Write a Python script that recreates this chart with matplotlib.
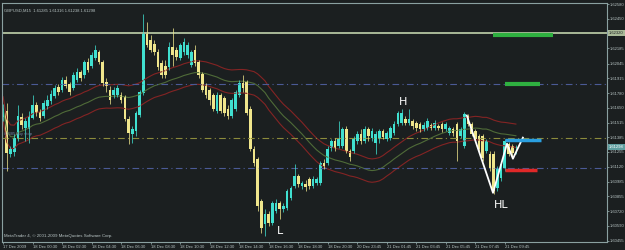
import numpy as np
import pandas as pd
import matplotlib.pyplot as plt

# GBPUSD M15, 17 Dec 2009 22:30 .. 21 Dec 2009
opens = [1.61571, 1.61625, 1.61238, 1.61256, 1.61382, 1.61571, 1.61472, 1.61463, 1.61562, 1.61670,
         1.61616, 1.61580, 1.61661, 1.61706, 1.61751, 1.61832, 1.61805, 1.61895, 1.61859, 1.61823,
         1.61895, 1.61967, 1.61940, 1.62057, 1.62021, 1.62093, 1.62147, 1.62057, 1.61877, 1.61805,
         1.61760, 1.61760, 1.61760, 1.61742, 1.61553, 1.61418, 1.61445, 1.61589, 1.61778, 1.62318,
         1.62255, 1.62219, 1.62147, 1.62048, 1.62021, 1.62012, 1.62192, 1.62165, 1.62093, 1.62147,
         1.62120, 1.62030, 1.62165, 1.62057, 1.61949, 1.61850, 1.61805, 1.61760, 1.61625, 1.61760,
         1.61733, 1.61643, 1.61580, 1.61643, 1.61760, 1.61868, 1.61877, 1.61643, 1.61283, 1.61193,
         1.60815, 1.60608, 1.60698, 1.60617, 1.60725, 1.60797, 1.60743, 1.60752, 1.60842, 1.60950,
         1.61040, 1.60950, 1.60968, 1.61013, 1.60950, 1.60977, 1.60977, 1.61157, 1.61157, 1.61292,
         1.61355, 1.61310, 1.61310, 1.61463, 1.61265, 1.61265, 1.61355, 1.61418, 1.61355, 1.61463,
         1.61382, 1.61337, 1.61373, 1.61445, 1.61373, 1.61382, 1.61427, 1.61508, 1.61517, 1.61553,
         1.61517, 1.61535, 1.61517, 1.61508, 1.61463, 1.61472, 1.61499, 1.61472, 1.61490, 1.61508,
         1.61463, 1.61427, 1.61463, 1.61508, 1.61400, 1.61310, 1.61580, 1.61508, 1.61445, 1.61400,
         1.61400, 1.61265, 1.61238, 1.61238, 1.60932, 1.61022, 1.61112, 1.61328, 1.61310, 1.61285]
highs = [1.61679, 1.61688, 1.61310, 1.61418, 1.61670, 1.61607, 1.61562, 1.61625, 1.61760, 1.61697,
         1.61643, 1.61715, 1.61760, 1.61805, 1.61850, 1.61859, 1.61922, 1.61931, 1.61877, 1.61967,
         1.62003, 1.61985, 1.62075, 1.62093, 1.62147, 1.62210, 1.62165, 1.62075, 1.61913, 1.61841,
         1.61832, 1.61850, 1.61787, 1.61760, 1.61580, 1.61490, 1.61625, 1.61805, 1.62489, 1.62417,
         1.62300, 1.62255, 1.62174, 1.62075, 1.62075, 1.62237, 1.62363, 1.62192, 1.62228, 1.62273,
         1.62237, 1.62165, 1.62210, 1.62075, 1.61967, 1.61868, 1.61823, 1.61778, 1.61787, 1.61778,
         1.61751, 1.61670, 1.61733, 1.61805, 1.61895, 1.61940, 1.61895, 1.61661, 1.61310, 1.61211,
         1.60833, 1.60743, 1.60725, 1.60815, 1.60833, 1.60815, 1.60797, 1.60923, 1.60950, 1.61148,
         1.61058, 1.60995, 1.61004, 1.61031, 1.61040, 1.61031, 1.61175, 1.61193, 1.61310, 1.61373,
         1.61382, 1.61535, 1.61481, 1.61490, 1.61283, 1.61400, 1.61445, 1.61463, 1.61490, 1.61481,
         1.61472, 1.61445, 1.61463, 1.61463, 1.61445, 1.61490, 1.61535, 1.61625, 1.61643, 1.61580,
         1.61643, 1.61553, 1.61535, 1.61526, 1.61526, 1.61562, 1.61517, 1.61544, 1.61508, 1.61526,
         1.61526, 1.61490, 1.61481, 1.61526, 1.61481, 1.61616, 1.61598, 1.61526, 1.61463, 1.61418,
         1.61418, 1.61373, 1.61265, 1.61265, 1.61130, 1.61175, 1.61373, 1.61346, 1.61328, 1.61316]
lows = [1.61535, 1.61085, 1.61211, 1.61220, 1.61355, 1.61463, 1.61355, 1.61337, 1.61553, 1.61580,
        1.61535, 1.61562, 1.61643, 1.61679, 1.61733, 1.61760, 1.61787, 1.61823, 1.61760, 1.61805,
        1.61877, 1.61886, 1.61913, 1.61967, 1.62003, 1.62075, 1.62039, 1.61841, 1.61787, 1.61679,
        1.61733, 1.61742, 1.61688, 1.61535, 1.61328, 1.61337, 1.61400, 1.61571, 1.61760, 1.62192,
        1.62147, 1.62120, 1.61985, 1.61913, 1.61913, 1.61985, 1.62021, 1.62075, 1.62075, 1.62120,
        1.62093, 1.62012, 1.62021, 1.61913, 1.61787, 1.61733, 1.61670, 1.61625, 1.61607, 1.61607,
        1.61580, 1.61553, 1.61562, 1.61625, 1.61742, 1.61787, 1.61589, 1.61265, 1.61130, 1.60725,
        1.60527, 1.60500, 1.60590, 1.60599, 1.60707, 1.60653, 1.60716, 1.60734, 1.60824, 1.60932,
        1.60941, 1.60923, 1.60905, 1.60923, 1.60932, 1.60959, 1.60959, 1.61103, 1.61139, 1.61265,
        1.61265, 1.61292, 1.61292, 1.61247, 1.61175, 1.61247, 1.61328, 1.61328, 1.61337, 1.61355,
        1.61355, 1.61238, 1.61337, 1.61373, 1.61355, 1.61364, 1.61409, 1.61490, 1.61499, 1.61499,
        1.61499, 1.61463, 1.61445, 1.61436, 1.61445, 1.61454, 1.61454, 1.61454, 1.61454, 1.61436,
        1.61445, 1.61409, 1.61400, 1.61175, 1.61382, 1.61292, 1.61490, 1.61400, 1.61355, 1.61265,
        1.61175, 1.61247, 1.61085, 1.60878, 1.60905, 1.60995, 1.61085, 1.61220, 1.61220, 1.61238]
closes = [1.61643, 1.61247, 1.61283, 1.61382, 1.61580, 1.61499, 1.61535, 1.61580, 1.61670, 1.61607,
          1.61562, 1.61688, 1.61715, 1.61769, 1.61823, 1.61787, 1.61895, 1.61841, 1.61787, 1.61940,
          1.61967, 1.61913, 1.62057, 1.61985, 1.62120, 1.62165, 1.62057, 1.61868, 1.61841, 1.61715,
          1.61805, 1.61823, 1.61715, 1.61553, 1.61427, 1.61463, 1.61607, 1.61787, 1.62318, 1.62210,
          1.62165, 1.62147, 1.62012, 1.61940, 1.61940, 1.62192, 1.62120, 1.62102, 1.62210, 1.62237,
          1.62210, 1.62147, 1.62048, 1.61940, 1.61805, 1.61760, 1.61715, 1.61643, 1.61760, 1.61625,
          1.61607, 1.61580, 1.61715, 1.61787, 1.61868, 1.61823, 1.61607, 1.61283, 1.61157, 1.60770,
          1.60572, 1.60698, 1.60617, 1.60797, 1.60797, 1.60743, 1.60770, 1.60905, 1.60932, 1.61040,
          1.60968, 1.60977, 1.60941, 1.60950, 1.61013, 1.61013, 1.61157, 1.61130, 1.61283, 1.61355,
          1.61292, 1.61382, 1.61463, 1.61265, 1.61211, 1.61373, 1.61418, 1.61355, 1.61463, 1.61400,
          1.61445, 1.61418, 1.61445, 1.61391, 1.61427, 1.61472, 1.61508, 1.61607, 1.61607, 1.61517,
          1.61553, 1.61490, 1.61472, 1.61463, 1.61499, 1.61535, 1.61472, 1.61517, 1.61472, 1.61463,
          1.61508, 1.61472, 1.61427, 1.61355, 1.61463, 1.61598, 1.61508, 1.61418, 1.61373, 1.61283,
          1.61202, 1.61355, 1.61112, 1.60905, 1.61112, 1.61148, 1.61355, 1.61238, 1.61247, 1.61298]

time_labels = ["17 Dec 2009", "18 Dec 00:30", "18 Dec 02:30", "18 Dec 04:30", "18 Dec 06:30",
               "18 Dec 08:30", "18 Dec 10:30", "18 Dec 12:30", "18 Dec 14:30", "18 Dec 16:30",
               "18 Dec 18:30", "18 Dec 20:30", "20 Dec 23:45", "21 Dec 01:45", "21 Dec 03:45",
               "21 Dec 05:45", "21 Dec 07:45", "21 Dec 09:45"]
price_ticks = [1.62580, 1.62450, 1.62185, 1.62045, 1.61915, 1.61780, 1.61650, 1.61515,
               1.61385, 1.61255, 1.61120, 1.60985, 1.60855, 1.60720, 1.60590, 1.60455]

# drawn objects (bar index, price)
zigzag_bars = [125.7, 132.8, 136.6, 138.2, 140.9]
zigzag_prices = [1.61580, 1.60887, 1.61328, 1.61193, 1.61382]
level_line = 1.62322
ask_level = 1.61298
dotted_levels = [1.61860, 1.61112]
olive_level = 1.61382

bg = '#1b1f20'
up_col = '#40e0d0'
dn_col = '#f0e68c'
frame = '#8aa0a0'
txt = '#b8c4c4'
small_font = ['Liberation Sans Narrow', 'Liberation Sans']

n = len(closes)
x = np.arange(n)
o = np.array(opens); h = np.array(highs); l = np.array(lows); c = np.array(closes)

fig = plt.figure(figsize=(6.25, 2.5), dpi=100)
fig.patch.set_facecolor(bg)
ax = fig.add_axes([2/625, 8/250, 605/625, 239/250])
ax.set_facecolor(bg)

# moving average + envelopes
ma = pd.Series(c).rolling(34, min_periods=1).mean().values
ax.plot(x, ma, color='#4f6b38', lw=0.8)
ax.plot(x, ma * 1.00065, color='#842424', lw=0.8)
ax.plot(x, ma * 0.99935, color='#842424', lw=0.8)

# horizontal lines
ax.axhline(level_line, color='#a9b998', lw=1.4)
ax.axhline(olive_level, color='#8c8c3c', lw=0.8, ls=(0, (6, 3, 1, 3)))
for lv in dotted_levels:
    ax.axhline(lv, color='#4b5a96', lw=0.8, ls=(0, (6, 3, 1, 3)))

# candles
cols = np.where(c >= o, up_col, dn_col)
ax.vlines(x, l, h, colors=cols, lw=0.7, alpha=0.75)
body = np.maximum(np.abs(c - o), 0.00002)
ax.bar(x, body, bottom=np.minimum(o, c), width=0.72, color=cols, lw=0)

# trader's drawings
ax.plot(zigzag_bars, zigzag_prices, color='white', lw=1.3)
ax.hlines(1.62300, 132.8, 149.0, color='#2fb040', lw=3)
ax.hlines(1.61860, 136.0, 145.5, color='#2fb040', lw=3)
ax.hlines(1.61364, 136.0, 145.8, color='#2a9fe0', lw=2.5)
ax.hlines(1.61094, 136.0, 144.7, color='#e02828', lw=2.5)
ax.text(108.5, 1.61697, 'H', color='white', fontsize=8, ha='center', va='center')
ax.text(75.0, 1.60545, 'L', color='white', fontsize=8, ha='center', va='center')
ax.text(135.0, 1.60779, 'HL', color='white', fontsize=8, ha='center', va='center')

ax.set_xlim(-0.3, 163.7)
ax.set_ylim(1.60446, 1.62589)

ax.yaxis.tick_right()
ax.set_yticks(price_ticks)
ax.set_yticklabels([f'{p:.5f}' for p in price_ticks], family=small_font)
ax.set_xticks(np.arange(len(time_labels)) * 8)
ax.set_xticklabels(time_labels, family=small_font)
for lab in ax.get_xticklabels():
    lab.set_horizontalalignment('left')
ax.tick_params(colors=frame, labelcolor=txt, labelsize=3.0, length=1.5, width=0.6, pad=0.6)
for s in ax.spines.values():
    s.set_color(frame)
    s.set_linewidth(0.8)

# price labels on the axis
ax.text(1.0035, level_line, '1.62320', transform=ax.get_yaxis_transform(), fontsize=3.0,
        family=small_font, color='#1b1f20', va='center', ha='left',
        bbox=dict(boxstyle='square,pad=0.25', fc='#a9b998', ec='none'))
ax.text(1.0035, ask_level, '1.61298', transform=ax.get_yaxis_transform(), fontsize=3.0,
        family=small_font, color='white', va='center', ha='left',
        bbox=dict(boxstyle='square,pad=0.25', fc='#5f9ea0', ec='none'))

ax.text(0.004, 0.975, 'GBPUSD,M15  1.61285 1.61316 1.61238 1.61298', transform=ax.transAxes,
        fontsize=3.0, family=small_font, color=txt, va='top')
ax.text(0.004, 0.015, 'MetaTrader 4, \u00a9 2001-2009 MetaQuotes Software Corp.', transform=ax.transAxes,
        fontsize=3.2, family=small_font, color=txt, va='bottom')
ax.text(0.004, olive_level + 0.00018, '#3385 buy stop', transform=ax.get_yaxis_transform(),
        fontsize=3.0, family=small_font, color='#6f7f9f', va='bottom')

fig.savefig('out.png', dpi=100, facecolor=bg)
